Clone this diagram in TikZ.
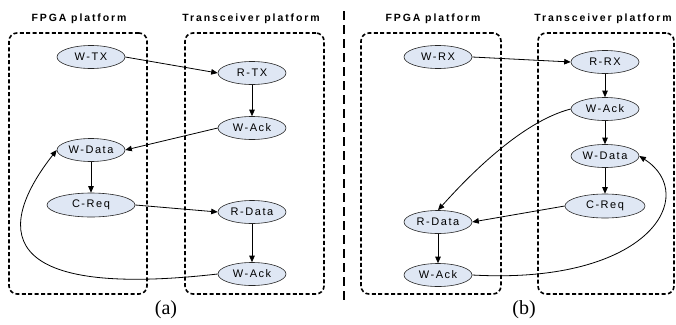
\documentclass[tikz,border=0pt]{standalone}
\usepackage{fontspec}
\setmainfont{Liberation Sans}
\newfontfamily\nodefont[LetterSpace=14]{Liberation Sans}
\newfontfamily\titlefont[LetterSpace=18]{Liberation Sans Bold}
\newfontfamily\capfont{Liberation Serif}
\usetikzlibrary{arrows.meta,shapes.geometric}
\definecolor{nodefill}{RGB}{223,231,244}
\tikzset{
  st/.style={ellipse, draw=black!85, line width=0.6pt, fill=nodefill, minimum width=68pt, minimum height=23pt, inner sep=0pt, font=\nodefont\fontsize{11}{12}\selectfont},
  platform/.style={draw, line width=1.6pt, dash pattern=on 4pt off 2.4pt, rounded corners=8pt, inner sep=0pt},
  ptitle/.style={font=\titlefont\fontsize{10.5}{12}\selectfont, inner sep=0pt},
  sublabel/.style={font=\capfont\fontsize{20}{22}\selectfont, inner sep=0pt},
  conn/.style={line width=0.8pt, -{Triangle[length=6.5pt,width=5.5pt]}}
}
\begin{document}
\begin{tikzpicture}[x=1pt,y=-1pt]
\useasboundingbox (0,0) rectangle (676,324);
% panel (a)
\node[platform, minimum width=138pt, minimum height=261pt] (fa) at (78,163.5) {};
\node[platform, minimum width=139pt, minimum height=261pt] (ta) at (254.5,163.5) {};
\node[ptitle] (tfa) at (79,19) {FPGA platform};
\node[ptitle] (tta) at (251,19) {Transceiver platform};
\node[st] (wtx) at (91,57) {W-TX};
\node[st] (rtx) at (252,73) {R-TX};
\node[st] (wacka) at (252,128) {W-Ack};
\node[st] (wdataa) at (91,150) {W-Data};
\node[st, minimum width=88pt, minimum height=24pt] (creqa) at (91,205) {C-Req};
\node[st] (rdataa) at (252,212) {R-Data};
\node[st] (wackb) at (252,274) {W-Ack};
\node[sublabel] (la) at (166,310) {(a)};
\draw[conn] (wtx.east) -- (rtx.west);
\draw[conn] (rtx) -- (wacka);
\draw[conn] (wacka.west) -- (wdataa.east);
\draw[conn] (wdataa) -- (creqa);
\draw[conn] (creqa.east) -- (rdataa.west);
\draw[conn] (rdataa) -- (wackb);
\draw[conn] (wackb.west) .. controls (-10,300) and (-2,225) .. (wdataa.west);
% separator
\coordinate (s1) at (344,11);
\coordinate (s2) at (344,302);
\draw[line width=2.2pt, dash pattern=on 9pt off 5pt] (s1) -- (s2);
% panel (b)
\node[platform, minimum width=140pt, minimum height=261pt] (fb) at (431,163.5) {};
\node[platform, minimum width=136pt, minimum height=261pt] (tb) at (606,163.5) {};
\node[ptitle] (tfb) at (433,19) {FPGA platform};
\node[ptitle] (ttb) at (603,19) {Transceiver platform};
\node[st] (wrx) at (438,57) {W-RX};
\node[st] (rrx) at (605,62) {R-RX};
\node[st] (wackc) at (605,109) {W-Ack};
\node[st] (wdatab) at (605,156) {W-Data};
\node[st, minimum width=80pt, minimum height=24pt] (creqb) at (605,206) {C-Req};
\node[st] (rdatab) at (438,222) {R-Data};
\node[st] (wackd) at (438,275) {W-Ack};
\node[sublabel] (lb) at (524,310) {(b)};
\draw[conn] (wrx.east) -- (rrx.west);
\draw[conn] (rrx) -- (wackc);
\draw[conn] (wackc) -- (wdatab);
\draw[conn] (wdatab) -- (creqb);
\draw[conn] (creqb.west) -- (rdatab.east);
\draw[conn] (rdatab) -- (wackd);
\draw[conn] (wackc.west) .. controls (520,122) and (465,180) .. (rdatab.north);
\draw[conn] (wackd.east) .. controls (650,285) and (700,195) .. (wdatab.east);
\end{tikzpicture}
\end{document}
